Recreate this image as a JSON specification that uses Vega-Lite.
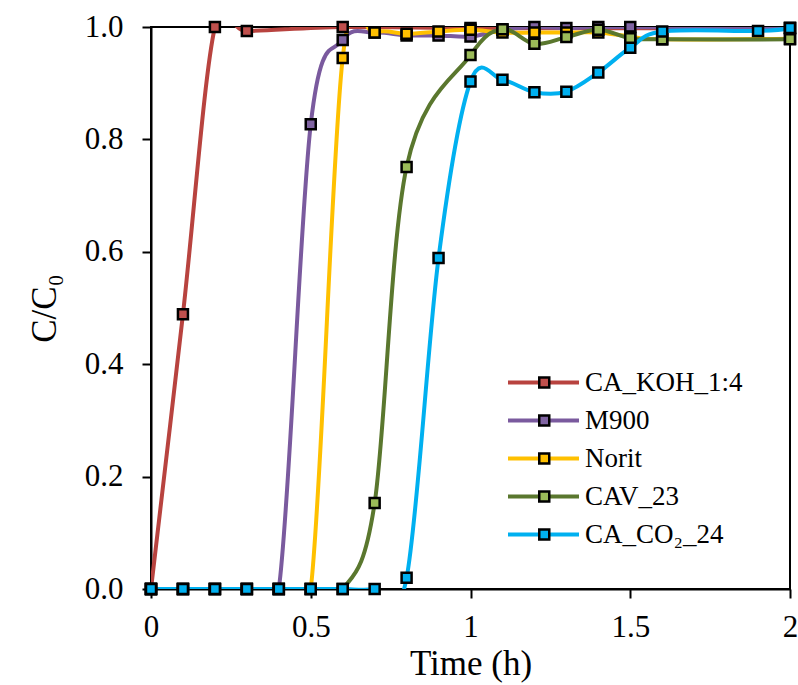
{
  "$schema": "https://vega.github.io/schema/vega-lite/v6.json",
  "width": 639,
  "height": 562,
  "autosize": {"type": "none"},
  "padding": {"left": 151, "top": 27, "right": 8, "bottom": 96},
  "background": "white",
  "config": {
    "view": {"stroke": "black", "strokeWidth": 2},
    "axis": {
      "labelFont": "Liberation Serif", "labelFontSize": 31, "labelColor": "black",
      "titleFont": "Liberation Serif", "titleFontSize": 35, "titleFontWeight": "normal", "titleColor": "black",
      "domainColor": "black", "domainWidth": 2, "tickColor": "black", "tickWidth": 2, "tickSize": 9,
      "grid": false
    }
  },
  "data": {"values": [
    {"s": "CA_KOH_1:4", "t": 0, "c": 0},
    {"s": "CA_KOH_1:4", "t": 0.1, "c": 0.489},
    {"s": "CA_KOH_1:4", "t": 0.2, "c": 1.0},
    {"s": "CA_KOH_1:4", "t": 0.3, "c": 0.993},
    {"s": "CA_KOH_1:4", "t": 0.6, "c": 1.0},
    {"s": "CA_KOH_1:4", "t": 1.0, "c": 0.998},
    {"s": "CA_KOH_1:4", "t": 2.0, "c": 0.998},

    {"s": "M900", "t": 0, "c": 0},
    {"s": "M900", "t": 0.1, "c": 0},
    {"s": "M900", "t": 0.2, "c": 0},
    {"s": "M900", "t": 0.3, "c": 0},
    {"s": "M900", "t": 0.4, "c": 0},
    {"s": "M900", "t": 0.5, "c": 0.827},
    {"s": "M900", "t": 0.6, "c": 0.977},
    {"s": "M900", "t": 0.7, "c": 0.99},
    {"s": "M900", "t": 0.8, "c": 0.985},
    {"s": "M900", "t": 0.9, "c": 0.985},
    {"s": "M900", "t": 1.0, "c": 0.983},
    {"s": "M900", "t": 1.1, "c": 0.995},
    {"s": "M900", "t": 1.2, "c": 1.0},
    {"s": "M900", "t": 1.3, "c": 0.998},
    {"s": "M900", "t": 1.4, "c": 1.0},
    {"s": "M900", "t": 1.5, "c": 1.0},
    {"s": "M900", "t": 2.0, "c": 0.998},

    {"s": "Norit", "t": 0, "c": 0},
    {"s": "Norit", "t": 0.1, "c": 0},
    {"s": "Norit", "t": 0.2, "c": 0},
    {"s": "Norit", "t": 0.3, "c": 0},
    {"s": "Norit", "t": 0.4, "c": 0},
    {"s": "Norit", "t": 0.5, "c": 0},
    {"s": "Norit", "t": 0.6, "c": 0.945},
    {"s": "Norit", "t": 0.7, "c": 0.99},
    {"s": "Norit", "t": 0.8, "c": 0.988},
    {"s": "Norit", "t": 0.9, "c": 0.992},
    {"s": "Norit", "t": 1.0, "c": 0.995},
    {"s": "Norit", "t": 1.1, "c": 0.99},
    {"s": "Norit", "t": 1.2, "c": 0.99},
    {"s": "Norit", "t": 1.3, "c": 0.99},
    {"s": "Norit", "t": 1.4, "c": 0.99},
    {"s": "Norit", "t": 1.5, "c": 0.983},
    {"s": "Norit", "t": 1.6, "c": 0.978},
    {"s": "Norit", "t": 2.0, "c": 0.979},

    {"s": "CAV_23", "t": 0, "c": 0},
    {"s": "CAV_23", "t": 0.1, "c": 0},
    {"s": "CAV_23", "t": 0.2, "c": 0},
    {"s": "CAV_23", "t": 0.3, "c": 0},
    {"s": "CAV_23", "t": 0.4, "c": 0},
    {"s": "CAV_23", "t": 0.5, "c": 0},
    {"s": "CAV_23", "t": 0.6, "c": 0},
    {"s": "CAV_23", "t": 0.7, "c": 0.153},
    {"s": "CAV_23", "t": 0.8, "c": 0.751},
    {"s": "CAV_23", "t": 1.0, "c": 0.95},
    {"s": "CAV_23", "t": 1.1, "c": 0.996},
    {"s": "CAV_23", "t": 1.2, "c": 0.97},
    {"s": "CAV_23", "t": 1.3, "c": 0.982},
    {"s": "CAV_23", "t": 1.4, "c": 0.995},
    {"s": "CAV_23", "t": 1.5, "c": 0.98},
    {"s": "CAV_23", "t": 1.6, "c": 0.978},
    {"s": "CAV_23", "t": 2.0, "c": 0.978},

    {"s": "CA_CO₂_24", "t": 0, "c": 0},
    {"s": "CA_CO₂_24", "t": 0.1, "c": 0},
    {"s": "CA_CO₂_24", "t": 0.2, "c": 0},
    {"s": "CA_CO₂_24", "t": 0.3, "c": 0},
    {"s": "CA_CO₂_24", "t": 0.4, "c": 0},
    {"s": "CA_CO₂_24", "t": 0.5, "c": 0},
    {"s": "CA_CO₂_24", "t": 0.6, "c": 0},
    {"s": "CA_CO₂_24", "t": 0.7, "c": 0},
    {"s": "CA_CO₂_24", "t": 0.8, "c": 0.02},
    {"s": "CA_CO₂_24", "t": 0.9, "c": 0.589},
    {"s": "CA_CO₂_24", "t": 1.0, "c": 0.903},
    {"s": "CA_CO₂_24", "t": 1.1, "c": 0.906},
    {"s": "CA_CO₂_24", "t": 1.2, "c": 0.884},
    {"s": "CA_CO₂_24", "t": 1.3, "c": 0.885},
    {"s": "CA_CO₂_24", "t": 1.4, "c": 0.919},
    {"s": "CA_CO₂_24", "t": 1.5, "c": 0.963},
    {"s": "CA_CO₂_24", "t": 1.6, "c": 0.992},
    {"s": "CA_CO₂_24", "t": 1.9, "c": 0.993},
    {"s": "CA_CO₂_24", "t": 2.0, "c": 0.998}
  ]},
  "encoding": {
    "x": {"field": "t", "type": "quantitative",
          "scale": {"domain": [0, 2], "nice": false},
          "axis": {"values": [0, 0.5, 1, 1.5, 2], "format": "~g", "title": "Time (h)", "labelPadding": 14, "titlePadding": 4, "labelFlush": false}},
    "y": {"field": "c", "type": "quantitative",
          "scale": {"domain": [0, 1], "nice": false},
          "axis": {"values": [0, 0.2, 0.4, 0.6, 0.8, 1.0], "format": ".1f", "title": "C/C₀", "labelPadding": 19, "titlePadding": 22}}
  },
  "layer": [
    {
      "mark": {"type": "line", "interpolate": "cardinal", "strokeWidth": 4, "clip": true},
      "encoding": {
        "color": {"field": "s", "type": "nominal",
          "scale": {"domain": ["CA_KOH_1:4", "M900", "Norit", "CAV_23", "CA_CO₂_24"],
                    "range": ["#B8433F", "#7A5A9E", "#FFC000", "#5A772E", "#00B0F0"]},
          "legend": {"orient": "none", "legendX": 379, "legendY": 342, "title": null,
                     "symbolType": "M-7.1,0H7.1", "symbolSize": 100, "symbolStrokeWidth": 4,
                     "labelFont": "Liberation Serif", "labelFontSize": 27, "labelColor": "black",
                     "labelOffset": 28, "rowPadding": 10, "labelLimit": 400}}
      }
    },
    {
      "mark": {"type": "point", "shape": "square", "filled": true, "size": 100, "stroke": "black", "strokeWidth": 2.5, "opacity": 1},
      "encoding": {
        "fill": {"field": "s", "type": "nominal", "sort": null,
          "scale": {"range": ["#C0504D", "#8064A2", "#FFC000", "#9BBB59", "#00B0F0"]},
          "legend": {"orient": "none", "legendX": 379.75, "legendY": 342, "title": null,
                     "symbolType": "square", "symbolSize": 100, "symbolStrokeColor": "black", "symbolStrokeWidth": 2.5,
                     "symbolOpacity": 1, "labelExpr": "' '",
                     "labelFont": "Liberation Serif", "labelFontSize": 27, "labelOpacity": 0,
                     "labelOffset": 7, "rowPadding": 10, "labelLimit": 400}}
      }
    }
  ]
}
